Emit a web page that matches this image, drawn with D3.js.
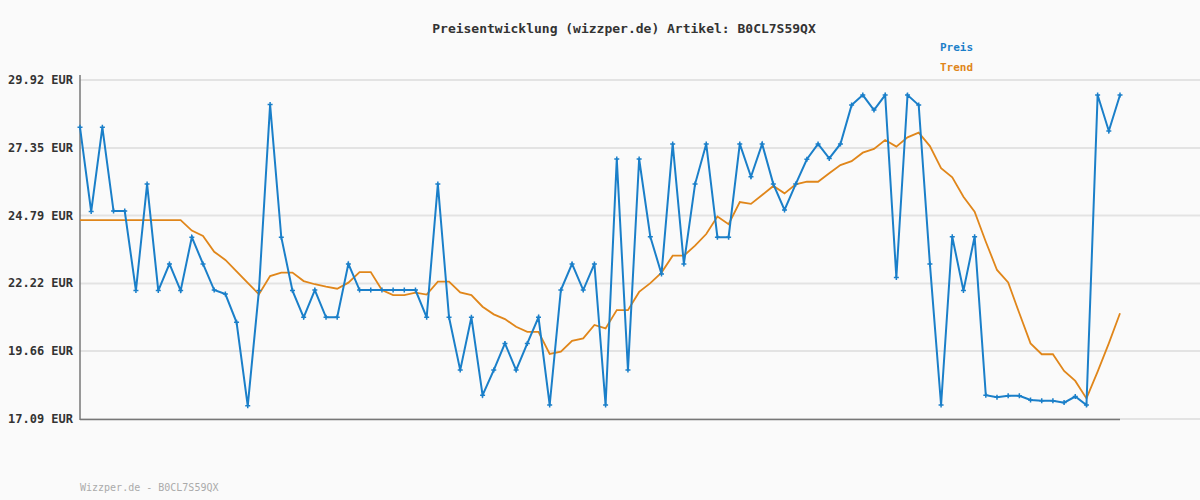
<!DOCTYPE html>
<html><head><meta charset="utf-8">
<script src="https://cdn.jsdelivr.net/npm/d3@7"></script>
<style>body{margin:0;background:#fafafa}svg{display:block}</style>
</head><body><svg width="1200" height="500"></svg>
<script>
const title = "Preisentwicklung (wizzper.de) Artikel: B0CL7S59QX";
const footer = "Wizzper.de - B0CL7S59QX";
const yTicks = [17.09, 19.66, 22.22, 24.79, 27.35, 29.92];
const preis = [28.13,24.94,28.13,24.96,24.96,21.95,25.98,21.95,22.96,21.95,23.97,22.96,21.97,21.82,20.75,17.59,21.95,28.99,23.97,21.95,20.94,21.97,20.94,20.94,22.96,21.97,21.97,21.97,21.97,21.97,21.97,20.94,25.98,20.94,18.94,20.94,17.99,18.94,19.95,18.94,19.95,20.94,17.62,21.97,22.96,21.97,22.96,17.62,26.93,18.94,26.93,23.99,22.58,27.50,22.96,25.98,27.50,23.97,23.97,27.50,26.26,27.50,25.98,25.00,25.98,26.92,27.50,26.95,27.50,28.97,29.35,28.78,29.35,22.45,29.35,28.97,22.96,17.62,23.99,21.95,23.99,17.99,17.91,17.97,17.97,17.81,17.78,17.78,17.71,17.94,17.62,29.35,27.99,29.35];
const trend = [24.62,24.62,24.62,24.62,24.62,24.62,24.62,24.62,24.62,24.62,24.22,24.02,23.42,23.11,22.68,22.24,21.81,22.50,22.63,22.63,22.31,22.19,22.10,22.02,22.25,22.65,22.65,21.97,21.78,21.78,21.87,21.80,22.29,22.29,21.88,21.78,21.34,21.05,20.87,20.58,20.39,20.39,19.55,19.64,20.05,20.14,20.65,20.52,21.21,21.21,21.90,22.23,22.63,23.27,23.27,23.65,24.09,24.75,24.46,25.30,25.23,25.57,25.91,25.63,25.97,26.07,26.07,26.39,26.70,26.85,27.17,27.31,27.65,27.40,27.75,27.93,27.42,26.58,26.24,25.50,24.94,23.80,22.73,22.26,21.09,19.95,19.54,19.54,18.91,18.53,17.87,18.88,19.95,21.09];
const blue="#1a7fc9", orange="#e0861a", font="'DejaVu Sans Mono', monospace";
const svg=d3.select("svg");
const x=d3.scaleLinear().domain([0,preis.length-1]).range([80,1120]);
const y=d3.scaleLinear().domain([17.09,29.92]).range([419,80]);
svg.append("g").selectAll("line").data(yTicks).join("line")
 .attr("x1",80).attr("x2",1200).attr("y1",d=>y(d)).attr("y2",d=>y(d))
 .attr("stroke","#e3e3e3").attr("stroke-width",2);
svg.append("g").selectAll("text").data(yTicks).join("text")
 .attr("x",8).attr("y",d=>y(d)+4).text(d=>d.toFixed(2)+" EUR")
 .attr("font-family",font).attr("font-size",12).attr("font-weight","bold").attr("fill","#333");
svg.append("line").attr("x1",80).attr("x2",80).attr("y1",75).attr("y2",420).attr("stroke","#777").attr("stroke-width",1.5);
svg.append("line").attr("x1",80).attr("x2",1120).attr("y1",419.5).attr("y2",419.5).attr("stroke","#777").attr("stroke-width",1.5);
const line=d3.line().x((d,i)=>x(i)).y(d=>y(d));
svg.append("path").datum(trend).attr("d",line).attr("fill","none").attr("stroke",orange).attr("stroke-width",1.8);
svg.append("path").datum(preis).attr("d",line).attr("fill","none").attr("stroke",blue).attr("stroke-width",2);
svg.append("g").selectAll("path").data(preis).join("path")
 .attr("d",(d,i)=>`M${x(i)-2.5},${y(d)}h5M${x(i)},${y(d)-2.5}v5`).attr("stroke",blue).attr("stroke-width",1.5);
svg.append("text").attr("x",624).attr("y",33).attr("text-anchor","middle").text(title)
 .attr("font-family",font).attr("font-size",13).attr("font-weight","bold").attr("fill","#333");
svg.append("text").attr("x",940).attr("y",51).text("Preis").attr("font-family",font).attr("font-size",11).attr("font-weight","bold").attr("fill",blue);
svg.append("text").attr("x",940).attr("y",71).text("Trend").attr("font-family",font).attr("font-size",11).attr("font-weight","bold").attr("fill",orange);
svg.append("text").attr("x",80).attr("y",491).text(footer).attr("font-family",font).attr("font-size",10).attr("fill","#aaa");
</script></body></html>
